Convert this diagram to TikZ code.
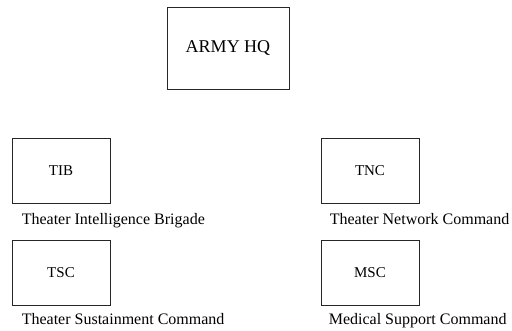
\documentclass[tikz,border=0pt]{standalone}
\usepackage{fontspec}
\setmainfont{Liberation Serif}
\usetikzlibrary{positioning, calc}

\begin{document}
\begin{tikzpicture}[x=1pt, y=-1pt,
  unit/.style={draw=black!85, line width=0.8pt, minimum width=98pt, minimum height=65pt, font=\fontsize{15}{18}\selectfont},
  hq/.style={unit, minimum width=122pt, minimum height=82pt, font=\fontsize{18}{21}\selectfont},
  caption/.style={anchor=base west, inner sep=0pt, font=\fontsize{16}{19}\selectfont}]
  \useasboundingbox (0,0) rectangle (512,331);
  % headquarters
  \node[hq] (army) at (228,48) {ARMY HQ};
  % subordinate commands
  \node[unit] (tib) at (61,170.5) {TIB};
  \node[unit] (tnc) at (370,170.5) {TNC};
  \node[unit] (tsc) at (61,272.5) {TSC};
  \node[unit] (msc) at (370,272.5) {MSC};
  % full names under the boxes
  \node[caption] (tibname) at ($(tib.south west)+(10,21)$) {Theater Intelligence Brigade};
  \node[caption] (tncname) at ($(tnc.south west)+(9,21)$) {Theater Network Command};
  \node[caption] (tscname) at ($(tsc.south west)+(10,19)$) {Theater Sustainment Command};
  \node[caption] (mscname) at ($(msc.south west)+(8,19)$) {Medical Support Command};
\end{tikzpicture}
\end{document}
